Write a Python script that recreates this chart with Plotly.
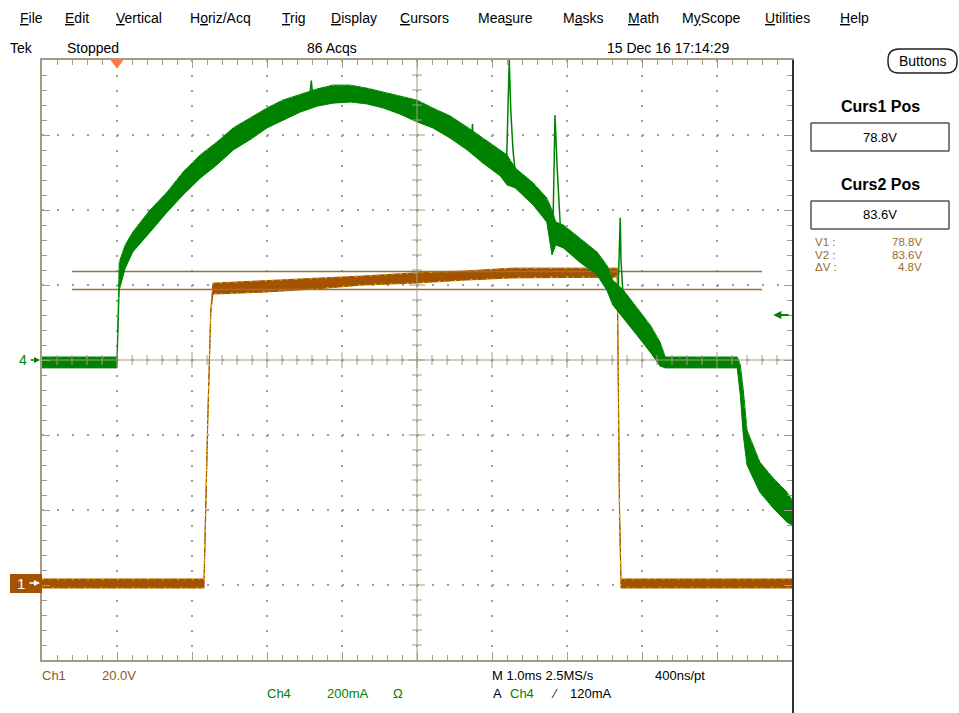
import plotly.graph_objects as go

# Ch4 current trace (green), time in ms, current in mA: upper / lower edge of the noisy band
ch4_t = [-1.00, -0.02, 0.00, 0.03, 0.11, 0.21, 0.44, 0.67, 0.88, 1.11, 1.33, 1.55, 1.77, 2.00,
         2.21, 2.44, 2.67, 2.88, 3.11, 3.33, 3.55, 3.77, 4.00, 4.21, 4.44, 4.67, 4.88, 5.11,
         5.20, 5.31, 5.55, 5.73, 5.80, 5.85, 5.95, 6.17, 6.40, 6.53, 6.61, 6.75, 6.93, 7.11,
         7.24, 7.31, 7.77, 8.27, 8.31, 8.35, 8.40, 8.57, 8.75, 8.93, 9.00]
ch4_hi = [8, 8, 8, 261, 307, 341, 400, 448, 501, 547, 581, 619, 645, 672,
          693, 709, 723, 733, 733, 725, 715, 704, 693, 672, 651, 621, 592, 560,
          547, 512, 472, 432, 400, 368, 360, 325, 288, 253, 213, 187, 139, 93,
          48, 8, 8, 8, -13, -80, -187, -272, -315, -352, -373]
ch4_lo = [-21, -21, -21, 187, 245, 288, 341, 395, 440, 485, 520, 560, 587, 619,
          640, 661, 677, 685, 688, 683, 672, 656, 635, 619, 592, 560, 525, 491,
          467, 459, 413, 368, 280, 307, 299, 261, 227, 187, 147, 112, 67, 21,
          -16, -21, -21, -21, -93, -200, -280, -352, -395, -432, -440]
# narrow spikes on Ch4 (None separates spikes)
spike_t = [2.57, 2.59, 2.61, None,
           4.73, 4.74, 4.75, None,
           5.19, 5.23, 5.25, 5.28, 5.32, None,
           5.81, 5.84, 5.87, 5.91, None,
           6.68, 6.71, 6.72, 6.75]
spike_i = [700, 745, 705, None,
           600, 630, 560, None,
           493, 800, 667, 560, 480, None,
           320, 653, 507, 360, None,
           173, 379, 267, 160]

# Ch1 voltage trace (brown), time in ms, voltage in V
ch1_t = [-1.00, 1.16, 1.21, 1.25, 1.28, 1.95, 2.61, 3.28, 3.95, 4.61, 5.28, 5.95, 6.67, 6.70, 6.72, 9.00]
ch1_hi = [1.6, 1.6, 44.5, 73.5, 80.5, 81.1, 81.6, 82.4, 83.2, 83.7, 84.5, 84.5, 84.5, 20.5, 1.6, 1.6]
ch1_lo = [-0.8, -0.8, 43.5, 72.5, 77.6, 78.1, 78.9, 80.0, 80.5, 81.3, 81.9, 82.1, 82.1, 19.5, -0.8, -0.8]

# cursors (Ch1, V) and trigger
curs_values = [78.8, 83.6]
curs_span = [-0.6, 8.6]
trig_time = 0.0
trig_level = 120  # mA on Ch4

# axis settings (10 x 1.0 ms, 8 divisions)
x_range = [-1, 9]
ch1_range = [-20, 140]     # 20 V/div, ground 3 div below centre
ch4_range = [-800, 800]    # 200 mA/div, ground at centre

# ---------------- styling ----------------
W, H = 959, 713
L, R, T, B = 42, 792, 60, 660
GREEN = '#008200'
GREEN_HI = '#48c848'
BROWN = '#a35200'
YELLOW = '#e0c000'
CURS = '#a0703a'
FRAME = '#a59b82'
TXT_BROWN = '#8c5a28'
TXT_GOLD = '#9c6a2a'
FONT = 'Liberation Sans, Arial, sans-serif'


def pp(x, y):
    return (x - L) / (R - L), (B - y) / (B - T)


fig = go.Figure()

# Ch1 band (base y axis)
fig.add_trace(go.Scatter(x=ch1_t + ch1_t[::-1], y=ch1_hi + ch1_lo[::-1], fill='toself',
                         fillcolor=BROWN, line=dict(color=BROWN, width=1), mode='lines',
                         yaxis='y', hoverinfo='skip', showlegend=False))
fig.add_trace(go.Scatter(x=ch1_t, y=ch1_hi, mode='lines', line=dict(color=YELLOW, width=1.5, dash='2px,5px,1px,7px'),
                         yaxis='y', hoverinfo='skip', showlegend=False))
fig.add_trace(go.Scatter(x=ch1_t, y=ch1_lo, mode='lines', line=dict(color=YELLOW, width=1.5, dash='1px,9px,2px,4px'),
                         yaxis='y', hoverinfo='skip', showlegend=False))
# cursors
for v in curs_values:
    fig.add_trace(go.Scatter(x=curs_span, y=[v, v], mode='lines', line=dict(color=CURS, width=1.5),
                             yaxis='y', hoverinfo='skip', showlegend=False))

# Ch4 band (overlay axis)
fig.add_trace(go.Scatter(x=ch4_t + ch4_t[::-1], y=ch4_hi + ch4_lo[::-1], fill='toself',
                         fillcolor=GREEN, line=dict(color=GREEN, width=1), mode='lines',
                         yaxis='y2', hoverinfo='skip', showlegend=False))
fig.add_trace(go.Scatter(x=ch4_t, y=ch4_hi, mode='lines', line=dict(color=GREEN_HI, width=1, dash='1px,6px,2px,9px'),
                         yaxis='y2', hoverinfo='skip', showlegend=False))
fig.add_trace(go.Scatter(x=spike_t, y=spike_i, mode='lines', line=dict(color=GREEN, width=1.5),
                         yaxis='y2', hoverinfo='skip', showlegend=False, connectgaps=False))

axis_common = dict(showticklabels=False, showline=True, linecolor=FRAME, linewidth=1.5,
                   mirror='ticks', ticks='inside', tickcolor=FRAME, ticklen=8, tickwidth=1,
                   showgrid=True, gridcolor='#a0a0a0', gridwidth=1.5, griddash='1.5px,13.5px',
                   zeroline=False, fixedrange=True)
fig.update_layout(
    width=W, height=H,
    margin=dict(l=L, r=W - R, t=T, b=H - B, pad=0),
    paper_bgcolor='white', plot_bgcolor='white',
    font=dict(family=FONT, size=13, color='black'),
    xaxis=dict(range=x_range, tick0=x_range[0], dtick=1,
               minor=dict(dtick=0.2, ticklen=5, ticks='inside', tickcolor=FRAME, showgrid=False),
               **axis_common),
    yaxis=dict(range=ch1_range, tick0=ch1_range[0], dtick=20,
               minor=dict(dtick=4, ticklen=5, ticks='inside', tickcolor=FRAME, showgrid=False),
               **axis_common),
    yaxis2=dict(range=ch4_range, overlaying='y', visible=False, fixedrange=True),
    showlegend=False,
)

shapes = []
# centre cross with ticks
xc = (x_range[0] + x_range[1]) / 2
yc = (ch1_range[0] + ch1_range[1]) / 2
shapes.append(dict(type='line', xref='x', yref='y', x0=x_range[0], x1=x_range[1], y0=yc, y1=yc,
                   line=dict(color=FRAME, width=1)))
shapes.append(dict(type='line', xref='x', yref='y', x0=xc, x1=xc, y0=ch1_range[0], y1=ch1_range[1],
                   line=dict(color=FRAME, width=1)))
nx = int(round((x_range[1] - x_range[0]) / 0.2))
for k in range(1, nx):
    tx = x_range[0] + 0.2 * k
    ln = 8 if k % 5 == 0 else 5
    shapes.append(dict(type='line', xref='x', yref='y', ysizemode='pixel', yanchor=yc,
                       x0=tx, x1=tx, y0=-ln, y1=ln, line=dict(color=FRAME, width=1)))
ny = int(round((ch1_range[1] - ch1_range[0]) / 4))
for k in range(1, ny):
    vy = ch1_range[0] + 4 * k
    ln = 8 if k % 5 == 0 else 5
    shapes.append(dict(type='line', xref='x', yref='y', xsizemode='pixel', xanchor=xc,
                       y0=vy, y1=vy, x0=-ln, x1=ln, line=dict(color=FRAME, width=1)))

# trigger position marker (orange triangle on top edge)
shapes.append(dict(type='path', xref='x', yref='paper', xsizemode='pixel', xanchor=trig_time,
                   ysizemode='pixel', yanchor=1, path='M-6,0 L6,0 L0,-8 Z',
                   fillcolor='#ff7a3a', line=dict(color='#ff7a3a', width=1)))

# right-hand dark border line
x0p, y0p = pp(793, 60)
_, y1p = pp(793, 713)
shapes.append(dict(type='line', xref='paper', yref='paper', x0=x0p, x1=x0p, y0=y0p, y1=y1p,
                   line=dict(color='#303030', width=2)))

# Ch1 ground marker box
bx0, by0 = pp(10, 593)
bx1, by1 = pp(42, 574)
shapes.append(dict(type='rect', xref='paper', yref='paper', x0=bx0, x1=bx1, y0=by0, y1=by1,
                   fillcolor=BROWN, line=dict(width=0)))

# cursor readout boxes
for (ya, yb) in [(123, 151), (201, 229)]:
    ax0, ay0 = pp(811, yb)
    ax1, ay1 = pp(949, ya)
    shapes.append(dict(type='rect', xref='paper', yref='paper', x0=ax0, x1=ax1, y0=ay0, y1=ay1,
                       line=dict(color='black', width=1), fillcolor='white'))


# Buttons rounded box
def rr(x0, y0, x1, y1, r):
    def P(x, y):
        a, b = pp(x, y)
        return f'{a:.5f},{b:.5f}'
    return (f'M{P(x0 + r, y0)} L{P(x1 - r, y0)} Q{P(x1, y0)} {P(x1, y0 + r)} '
            f'L{P(x1, y1 - r)} Q{P(x1, y1)} {P(x1 - r, y1)} L{P(x0 + r, y1)} '
            f'Q{P(x0, y1)} {P(x0, y1 - r)} L{P(x0, y0 + r)} Q{P(x0, y0)} {P(x0 + r, y0)} Z')


shapes.append(dict(type='path', xref='paper', yref='paper', path=rr(888, 49, 957, 73, 11),
                   line=dict(color='#202020', width=1.4), fillcolor='white'))

fig.update_layout(shapes=shapes)

ann = []


def txt(s, x, y, size=13, color='black', xanchor='left', family=FONT):
    a, b = pp(x, y)
    ann.append(dict(text=s, x=a, y=b, xref='paper', yref='paper', showarrow=False,
                    xanchor=xanchor, yanchor='middle', borderpad=0,
                    font=dict(size=size, color=color, family=family)))


# menu bar
menu = [('<u>F</u>ile', 20), ('<u>E</u>dit', 65), ('<u>V</u>ertical', 116), ('H<u>o</u>riz/Acq', 190),
        ('<u>T</u>rig', 282), ('<u>D</u>isplay', 331), ('<u>C</u>ursors', 400), ('Mea<u>s</u>ure', 478),
        ('M<u>a</u>sks', 563), ('<u>M</u>ath', 628), ('M<u>y</u>Scope', 682), ('<u>U</u>tilities', 765),
        ('<u>H</u>elp', 840)]
for s, x in menu:
    txt(s, x - 1, 18, size=14)

# status line
txt('Tek', 9, 48, size=14)
txt('Stopped', 66, 48, size=14)
txt('86 Acqs', 306, 48, size=14)
txt('15 Dec 16 17:14:29', 606, 48, size=14)
txt('Buttons', 922, 61, size=14, xanchor='center')

# cursor panel
txt('<b>Curs1 Pos</b>', 880, 106, size=16, xanchor='center')
txt('78.8V', 880, 137, size=13, xanchor='center')
txt('<b>Curs2 Pos</b>', 880, 184, size=16, xanchor='center')
txt('83.6V', 880, 215, size=13, xanchor='center')
for lab, val, y in [('V1 :', '78.8V', 242), ('V2 :', '83.6V', 254.5), ('\u0394V :', '4.8V', 267)]:
    txt(lab, 814, y, size=11.5, color=TXT_GOLD)
    txt(val, 923, y, size=11.5, color=TXT_GOLD, xanchor='right')

# channel markers
txt('4', 18, 360, size=14, color=GREEN)
txt('1', 16, 583, size=15, color='white')

# bottom readouts
txt('Ch1', 41, 675, size=13, color=TXT_BROWN)
txt('20.0V', 101, 675, size=13, color=TXT_BROWN)
txt('Ch4', 266, 693, size=13, color=GREEN)
txt('200mA', 326, 693, size=13, color=GREEN)
txt('\u03a9', 392, 693, size=13, color=GREEN)
txt('M 1.0ms 2.5MS/s', 491, 675, size=13)
txt('400ns/pt', 654, 675, size=13)
txt('A', 492, 693, size=13)
txt('Ch4', 509, 693, size=13, color=GREEN)
txt('\u2044', 550, 694, size=12)
txt('120mA', 569, 693, size=13)

# arrows: Ch4 ground, Ch1 ground, trigger level
ax_, ay_ = pp(40, 360)
ann.append(dict(x=ax_, y=ay_, xref='paper', yref='paper', ax=-11, ay=0, text='', showarrow=True,
                arrowhead=2, arrowsize=0.8, arrowwidth=1.5, arrowcolor=GREEN))
ax_, ay_ = pp(40, 583)
ann.append(dict(x=ax_, y=ay_, xref='paper', yref='paper', ax=-12, ay=0, text='', showarrow=True,
                arrowhead=2, arrowsize=0.8, arrowwidth=1.5, arrowcolor='white'))
ann.append(dict(x=8.75, y=trig_level, xref='x', yref='y2', ax=17, ay=0, text='', showarrow=True,
                arrowhead=2, arrowsize=0.9, arrowwidth=1.8, arrowcolor=GREEN))

fig.update_layout(annotations=ann)

fig.write_html('out.html', config={'displayModeBar': False},
               post_script="document.body.style.margin='0px';")
